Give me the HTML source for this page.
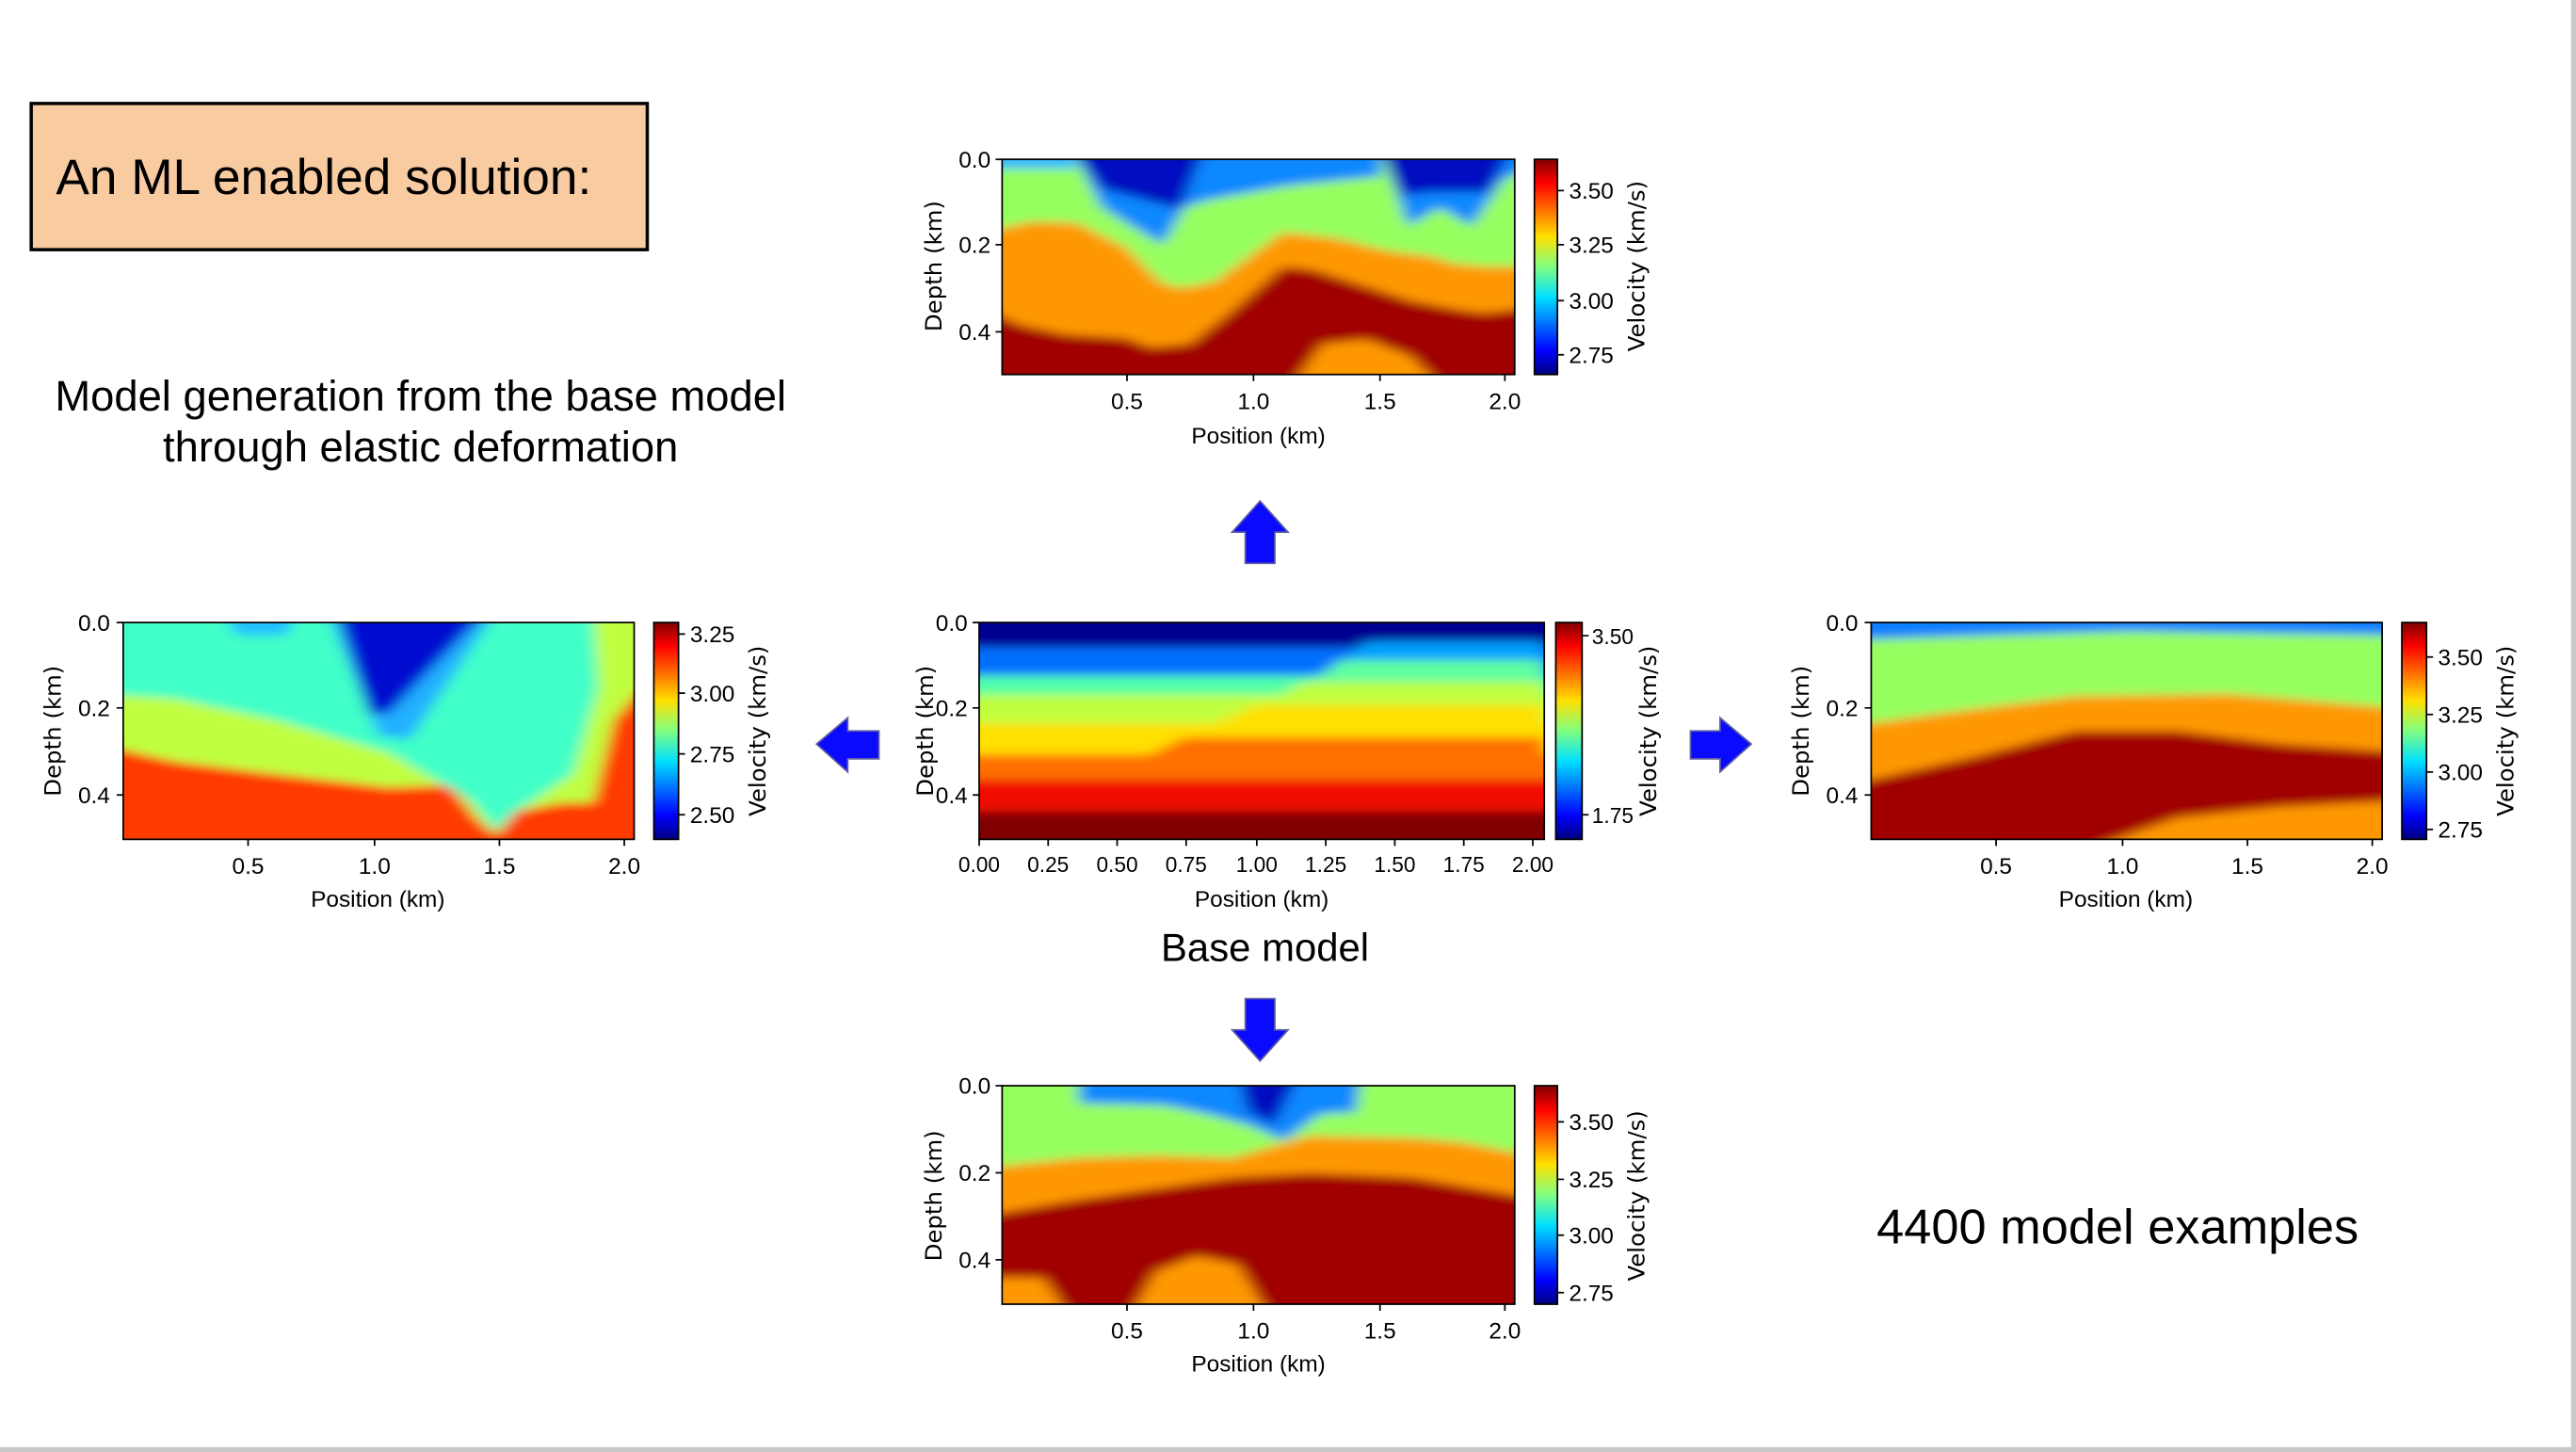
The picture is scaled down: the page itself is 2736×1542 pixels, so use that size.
<!DOCTYPE html>
<html><head><meta charset="utf-8"><style>
html,body{margin:0;padding:0;background:#fff;}
svg{display:block;}
text{font-family:"Liberation Sans","DejaVu Sans",sans-serif;fill:#000;}
.t{font-size:14px;font-family:"DejaVu Sans Condensed","DejaVu Sans","Liberation Sans",sans-serif;}
.l{font-size:14px;font-family:"DejaVu Sans","Liberation Sans",sans-serif;}
</style></head><body>
<svg width="2736" height="1542" viewBox="0 0 1568 884" preserveAspectRatio="none">
<defs>
<linearGradient id="jet" x1="0" y1="1" x2="0" y2="0">
<stop offset="0" stop-color="#000080"/><stop offset="0.11" stop-color="#0000ff"/>
<stop offset="0.36" stop-color="#00e0ff"/><stop offset="0.5" stop-color="#80ff80"/>
<stop offset="0.64" stop-color="#ffe000"/><stop offset="0.89" stop-color="#ff0000"/>
<stop offset="1" stop-color="#800000"/></linearGradient>
<filter id="b" x="-0.1" y="-0.1" width="1.2" height="1.2"><feGaussianBlur stdDeviation="14 22"/></filter>
<clipPath id="fc"><polygon points="230,700 1000,700 1000,80 690,80 600,250 380,510"/></clipPath>
</defs>
<rect width="1568" height="884" fill="#fff"/>
<rect x="1565" y="0" width="3" height="884" fill="#c8c8c8"/>
<rect x="0" y="881" width="1568" height="3" fill="#c8c8c8"/>

<rect x="19" y="63" width="375" height="89" fill="#f8cba0" stroke="#000" stroke-width="2"/>
<text x="34" y="118" font-size="30.5">An ML enabled solution:</text>
<text x="256" y="250" font-size="26" text-anchor="middle">Model generation from the base model</text>
<text x="256" y="281" font-size="26" text-anchor="middle">through elastic deformation</text>
<text x="770" y="585" font-size="24" text-anchor="middle">Base model</text>
<text x="1289" y="757" font-size="30" text-anchor="middle">4400 model examples</text>

<g fill="#0a0aff" stroke="#6060a0" stroke-width="1">
<polygon points="767,305 784,324 776,324 776,343 758,343 758,324 750,324"/>
<polygon points="767,646 784,627 776,627 776,608 758,608 758,627 750,627"/>
<polygon points="497,453 516,437 516,445 535,445 535,462 516,462 516,470"/>
<polygon points="1066,453 1047,437 1047,445 1029,445 1029,462 1047,462 1047,470"/>
</g>

<!-- TOP PLOT -->
<svg x="610" y="97" width="312" height="131" viewBox="0 0 1000 1000" preserveAspectRatio="none">
<rect width="1000" height="1000" fill="#a00000"/>
<g filter="url(#b)">
<rect x="-50" y="-50" width="1100" height="1100" fill="#a00000"/>
<polygon points="-50,-50 1050,-50 1050,685 941,714 893,700 797,657 701,584 605,512 548,498 443,714 366,858 289,873 241,830 126,815 40,772 -50,685" fill="#ff9800"/>
<polygon points="567,1050 625,859 711,837 797,916 854,1050" fill="#ff9800"/>
<polygon points="-50,-50 1050,-50 1050,498 941,498 874,483 845,455 749,425 653,368 548,339 481,455 414,570 347,599 308,570 241,411 146,296 59,289 -50,346" fill="#96ff60"/>
<polygon points="-50,-50 136,-50 146,43 -50,43" fill="#30b8ff"/>
<polygon points="136,-50 194,224 313,397 356,224 404,188 557,123 739,79 739,-50" fill="#1088ff"/>
<polygon points="739,-50 792,310 854,224 916,310 979,94 1050,22 1050,-50" fill="#1088ff"/>
<polygon points="136,-50 194,137 347,231 395,-50" fill="#0010c0"/>
<polygon points="739,-50 778,166 845,152 950,152 994,-50" fill="#0010c0"/>
</g></svg>

<!-- BASE PLOT -->
<svg x="596" y="379" width="344" height="132" viewBox="0 0 1000 1000" preserveAspectRatio="none">
<g filter="url(#b)">
<rect x="-50" y="-50" width="1100" height="166" fill="#000090"/>
<rect x="-50" y="116" width="1100" height="130" fill="#0070ff"/>
<rect x="-50" y="246" width="1100" height="87" fill="#50ffa8"/>
<rect x="-50" y="333" width="1100" height="131" fill="#c0ff40"/>
<rect x="-50" y="464" width="1100" height="145" fill="#ffe000"/>
<rect x="-50" y="609" width="1100" height="116" fill="#ff7000"/>
<rect x="-50" y="725" width="1100" height="145" fill="#f01000"/>
<rect x="-50" y="870" width="1100" height="180" fill="#800000"/>
<g clip-path="url(#fc)">
<rect x="0" y="0" width="1050" height="87" fill="#000090"/>
<rect x="0" y="87" width="1050" height="87" fill="#00a0ff"/>
<rect x="0" y="174" width="1050" height="101" fill="#60ffa0"/>
<rect x="0" y="275" width="1050" height="105" fill="#c0ff40"/>
<rect x="0" y="380" width="1050" height="150" fill="#ffe000"/>
<rect x="0" y="530" width="1050" height="200" fill="#ff7000"/>
</g></g></svg>

<!-- LEFT PLOT -->
<svg x="75" y="379" width="311" height="132" viewBox="0 0 1000 1000" preserveAspectRatio="none">
<rect width="1000" height="1000" fill="#ff3a00"/>
<g filter="url(#b)">
<rect x="-50" y="-50" width="1100" height="1100" fill="#ff3a00"/>
<polygon points="-50,-50 1050,-50 1050,200 960,450 920,830 860,830 770,870 730,980 690,900 640,750 520,760 300,700 100,640 -50,560" fill="#c0ff40"/>
<polygon points="-50,-50 920,-50 930,300 880,700 770,870 730,960 680,820 520,600 300,450 100,350 -50,330" fill="#40ffc8"/>
<polygon points="200,-50 340,-50 320,60 220,60" fill="#20c0ff"/>
<polygon points="400,-50 730,-50 560,540 500,520" fill="#20b0ff"/>
<polygon points="420,-50 710,-50 520,420 480,420" fill="#0010d0"/>
</g></svg>

<!-- RIGHT PLOT -->
<svg x="1139" y="379" width="311" height="132" viewBox="0 0 1000 1000" preserveAspectRatio="none">
<rect width="1000" height="1000" fill="#ff9800"/>
<g filter="url(#b)">
<rect x="-50" y="-50" width="1100" height="1100" fill="#ff9800"/>
<polygon points="-50,750 200,620 400,500 600,500 800,560 1050,600 1050,820 800,850 600,900 420,1050 -50,1050" fill="#a00000"/>
<polygon points="-50,-50 1050,-50 1050,400 700,330 400,340 200,400 -50,480" fill="#96ff60"/>
<polygon points="-50,-50 1050,-50 1050,60 500,40 -50,80" fill="#0a80ff"/>
</g></svg>

<!-- BOTTOM PLOT -->
<svg x="610" y="661" width="312" height="133" viewBox="0 0 1000 1000" preserveAspectRatio="none">
<rect width="1000" height="1000" fill="#a00000"/>
<g filter="url(#b)">
<rect x="-50" y="-50" width="1100" height="1100" fill="#a00000"/>
<polygon points="-50,-50 1050,-50 1050,520 800,420 600,400 450,420 300,470 150,520 -50,600" fill="#ff9800"/>
<polygon points="-50,880 80,880 130,1050 -50,1050" fill="#ff9800"/>
<polygon points="250,1050 300,850 380,780 460,820 520,1050" fill="#ff9800"/>
<polygon points="-50,-50 1050,-50 1050,330 900,260 800,240 600,230 450,330 300,320 150,330 -50,380" fill="#96ff60"/>
<polygon points="150,-50 700,-50 690,120 620,130 550,250 480,180 400,130 320,90 150,80" fill="#1088ff"/>
<polygon points="460,-50 580,-50 530,180 480,120" fill="#0010c0"/>
</g></svg>

<g fill="none" stroke="#000" stroke-width="1">
<rect x="610" y="97" width="312" height="131"/>
<rect x="596" y="379" width="344" height="132"/>
<rect x="75" y="379" width="311" height="132"/>
<rect x="1139" y="379" width="311" height="132"/>
<rect x="610" y="661" width="312" height="133"/>
</g>
<g stroke="#000" stroke-width="1">
<rect x="934" y="97" width="14" height="131" fill="url(#jet)"/>
<rect x="947" y="379" width="16" height="132" fill="url(#jet)"/>
<rect x="398" y="379" width="15" height="132" fill="url(#jet)"/>
<rect x="1462" y="379" width="15" height="132" fill="url(#jet)"/>
<rect x="934" y="661" width="14" height="133" fill="url(#jet)"/>
</g>

<g stroke="#000" stroke-width="1">
<path d="M606,97h4M606,149h4M606,202h4M686,228v4M763,228v4M840,228v4M916,228v4M948,116h4M948,149h4M948,183h4M948,216h4"/>
<path d="M592,379h4M592,431h4M592,484h4M596,511v4M638,511v4M680,511v4M722,511v4M765,511v4M807,511v4M849,511v4M891,511v4M933,511v4M963,387h4M963,496h4"/>
<path d="M71,379h4M71,431h4M71,484h4M151,511v4M228,511v4M304,511v4M380,511v4M413,386h4M413,422h4M413,459h4M413,496h4"/>
<path d="M1135,379h4M1135,431h4M1135,484h4M1215,511v4M1292,511v4M1368,511v4M1444,511v4M1477,400h4M1477,435h4M1477,470h4M1477,505h4"/>
<path d="M606,661h4M606,714h4M606,767h4M686,794v4M763,794v4M840,794v4M916,794v4M948,683h4M948,718h4M948,752h4M948,787h4"/>
</g>

<g class="t">
<text x="603" y="102" text-anchor="end">0.0</text><text x="603" y="154" text-anchor="end">0.2</text><text x="603" y="207" text-anchor="end">0.4</text>
<text x="686" y="249" text-anchor="middle">0.5</text><text x="763" y="249" text-anchor="middle">1.0</text><text x="840" y="249" text-anchor="middle">1.5</text><text x="916" y="249" text-anchor="middle">2.0</text>
<text x="955" y="121">3.50</text><text x="955" y="154">3.25</text><text x="955" y="188">3.00</text><text x="955" y="221">2.75</text>
<text x="766" y="270" text-anchor="middle">Position (km)</text>
</g>
<text class="l" transform="translate(573,162) rotate(-90)" text-anchor="middle">Depth (km)</text>
<text class="l" transform="translate(1001,162) rotate(-90)" text-anchor="middle">Velocity (km/s)</text>

<g class="t">
<text x="589" y="384" text-anchor="end">0.0</text><text x="589" y="436" text-anchor="end">0.2</text><text x="589" y="489" text-anchor="end">0.4</text>
<text x="596" y="531" text-anchor="middle" font-size="13">0.00</text><text x="638" y="531" text-anchor="middle" font-size="13">0.25</text><text x="680" y="531" text-anchor="middle" font-size="13">0.50</text><text x="722" y="531" text-anchor="middle" font-size="13">0.75</text><text x="765" y="531" text-anchor="middle" font-size="13">1.00</text><text x="807" y="531" text-anchor="middle" font-size="13">1.25</text><text x="849" y="531" text-anchor="middle" font-size="13">1.50</text><text x="891" y="531" text-anchor="middle" font-size="13">1.75</text><text x="933" y="531" text-anchor="middle" font-size="13">2.00</text>
<text x="969" y="392" font-size="13">3.50</text><text x="969" y="501" font-size="13">1.75</text>
<text x="768" y="552" text-anchor="middle">Position (km)</text>
</g>
<text class="l" transform="translate(568,445) rotate(-90)" text-anchor="middle">Depth (km)</text>
<text class="l" transform="translate(1008,445) rotate(-90)" text-anchor="middle">Velocity (km/s)</text>

<g class="t">
<text x="67" y="384" text-anchor="end">0.0</text><text x="67" y="436" text-anchor="end">0.2</text><text x="67" y="489" text-anchor="end">0.4</text>
<text x="151" y="532" text-anchor="middle">0.5</text><text x="228" y="532" text-anchor="middle">1.0</text><text x="304" y="532" text-anchor="middle">1.5</text><text x="380" y="532" text-anchor="middle">2.0</text>
<text x="420" y="391">3.25</text><text x="420" y="427">3.00</text><text x="420" y="464">2.75</text><text x="420" y="501">2.50</text>
<text x="230" y="552" text-anchor="middle">Position (km)</text>
</g>
<text class="l" transform="translate(37,445) rotate(-90)" text-anchor="middle">Depth (km)</text>
<text class="l" transform="translate(466,445) rotate(-90)" text-anchor="middle">Velocity (km/s)</text>

<g class="t">
<text x="1131" y="384" text-anchor="end">0.0</text><text x="1131" y="436" text-anchor="end">0.2</text><text x="1131" y="489" text-anchor="end">0.4</text>
<text x="1215" y="532" text-anchor="middle">0.5</text><text x="1292" y="532" text-anchor="middle">1.0</text><text x="1368" y="532" text-anchor="middle">1.5</text><text x="1444" y="532" text-anchor="middle">2.0</text>
<text x="1484" y="405">3.50</text><text x="1484" y="440">3.25</text><text x="1484" y="475">3.00</text><text x="1484" y="510">2.75</text>
<text x="1294" y="552" text-anchor="middle">Position (km)</text>
</g>
<text class="l" transform="translate(1101,445) rotate(-90)" text-anchor="middle">Depth (km)</text>
<text class="l" transform="translate(1530,445) rotate(-90)" text-anchor="middle">Velocity (km/s)</text>

<g class="t">
<text x="603" y="666" text-anchor="end">0.0</text><text x="603" y="719" text-anchor="end">0.2</text><text x="603" y="772" text-anchor="end">0.4</text>
<text x="686" y="815" text-anchor="middle">0.5</text><text x="763" y="815" text-anchor="middle">1.0</text><text x="840" y="815" text-anchor="middle">1.5</text><text x="916" y="815" text-anchor="middle">2.0</text>
<text x="955" y="688">3.50</text><text x="955" y="723">3.25</text><text x="955" y="757">3.00</text><text x="955" y="792">2.75</text>
<text x="766" y="835" text-anchor="middle">Position (km)</text>
</g>
<text class="l" transform="translate(573,728) rotate(-90)" text-anchor="middle">Depth (km)</text>
<text class="l" transform="translate(1001,728) rotate(-90)" text-anchor="middle">Velocity (km/s)</text>
</svg>
</body></html>
